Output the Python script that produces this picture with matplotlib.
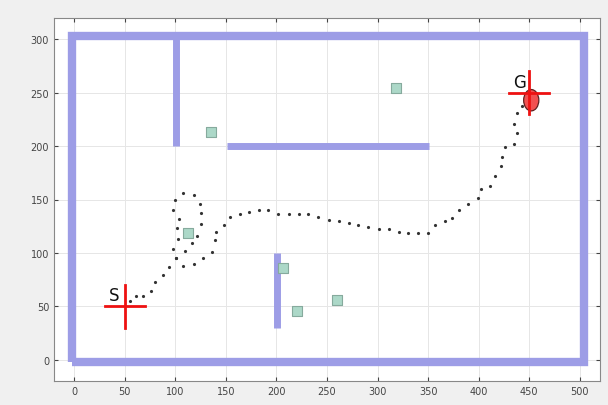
import matplotlib
matplotlib.use("Agg")
import matplotlib.pyplot as plt
from matplotlib.patches import Ellipse

# Walls: (x0, y0, x1, y1)
outer_wall_x = [-2, 504, 504, -2, -2]
outer_wall_y = [-2, -2, 303, 303, -2]
inner_walls = [
    (101, 200, 101, 300),
    (151, 200, 351, 200),
    (201, 30, 201, 100),
]

# Obstacles (square centres)
obs_x = [135, 113, 206, 220, 260, 318]
obs_y = [213, 119, 86, 46, 56, 254]

# Start / goal
start = (50, 50)
goal = (450, 250)
robot = (452, 243)

# Path dots
path_x = [55, 61, 68, 76, 80, 88, 94, 101, 98, 103, 102, 104, 98, 100, 108,
          118, 124, 125, 125, 121, 116, 110, 101, 108, 118, 127, 136, 139,
          140, 148, 154, 164, 173, 183, 192, 202, 212, 222, 231, 241, 252,
          262, 272, 281, 291, 301, 311, 321, 330, 340, 350, 357, 367, 374,
          381, 389, 399, 402, 411, 416, 422, 423, 426, 435, 438, 435, 438,
          443]
path_y = [55, 60, 60, 64, 73, 79, 87, 95, 104, 113, 123, 132, 140, 150, 156,
          154, 146, 137, 127, 116, 109, 102, 95, 88, 90, 95, 101, 112,
          120, 126, 134, 136, 138, 140, 140, 136, 136, 136, 136, 134, 131,
          130, 128, 126, 124, 122, 122, 120, 119, 119, 119, 126, 130, 133,
          140, 146, 151, 160, 163, 172, 181, 190, 199, 202, 212, 221, 231,
          238]

xticks = [0, 50, 100, 150, 200, 250, 300, 350, 400, 450, 500]
yticks = [0, 50, 100, 150, 200, 250, 300]

fig = plt.figure(figsize=(6.08, 4.06), dpi=100, facecolor="#f0f0f0")
ax = fig.add_axes([54/608, 24/406, 546/608, 363/406])
ax.set_facecolor("white")

wall_c = "#9d9de6"
ax.plot(outer_wall_x, outer_wall_y, color=wall_c, lw=6.0, solid_joinstyle="miter",
        solid_capstyle="butt", zorder=2)
for (x0, y0, x1, y1) in inner_walls:
    ax.plot([x0, x1], [y0, y1], color=wall_c, lw=5.0, solid_capstyle="butt", zorder=2)

ax.scatter(obs_x, obs_y, marker="s", s=55, facecolor="#acd8c8",
           edgecolor="#86aa9d", linewidth=0.8, zorder=3)

ax.scatter(path_x, path_y, s=1.6, color="#333333", zorder=4)

ax.add_patch(Ellipse(robot, 15, 20, facecolor="#f25050", edgecolor="#602020",
                     lw=0.9, zorder=5))

for (px, py), lab in [(start, "S"), (goal, "G")]:
    ax.plot([px - 20, px + 20], [py, py], color="#ee1111", lw=2.0, zorder=6)
    ax.plot([px, px], [py - 20, py + 20], color="#ee1111", lw=2.0, zorder=6)
    ax.text(px - 16, py + 2, lab, fontsize=12, color="#111111",
            ha="left", va="bottom", zorder=7)

ax.set_xlim(-20, 520)
ax.set_ylim(-20, 320)
ax.set_xticks(xticks)
ax.set_yticks(yticks)
ax.tick_params(axis="both", labelsize=7, colors="#444444", direction="in",
               top=True, right=True, length=3)
ax.grid(True, color="#e6e6e6", lw=0.7)
ax.set_axisbelow(True)
for s in ax.spines.values():
    s.set_color("#888888")
    s.set_linewidth(0.8)

fig.savefig("out.png", dpi=100, facecolor=fig.get_facecolor())
